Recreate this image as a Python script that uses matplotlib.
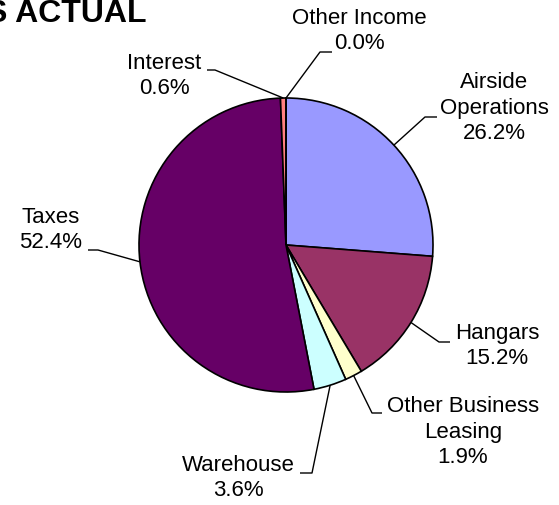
import matplotlib.pyplot as plt
import numpy as np

plt.rcParams["font.family"] = ["Liberation Sans", "DejaVu Sans"]

categories = [
    "Airside\nOperations",
    "Hangars",
    "Other Business\nLeasing",
    "Warehouse",
    "Taxes",
    "Interest",
    "Other Income",
]
shares = [26.2, 15.2, 1.9, 3.6, 52.4, 0.6, 0.0]
colors = ["#9999FF", "#993366", "#FFFFCC", "#CCFFFF", "#660066", "#FF8080", "#0066CC"]

# label placement in pixels: text centre, elbow of leader, end of leader
label_pos = [(494, 108), (497, 346), (463, 432), (238, 478), (51, 230), (164, 76), (359, 31)]
elbow_pos = [(425, 117), (439, 342), (372, 413), (312, 473), (98, 250), (215, 70), (320, 52)]
end_pos = [(437, 117), (450, 342), (382, 413), (300, 473), (88, 250), (207, 70), (332, 52)]

W, H = 559, 505
CX, CY, R = 286, 245, 147


def px(x, y):
    return (x - CX) / R, (CY - y) / R


fig = plt.figure(figsize=(W / 100, H / 100), dpi=100)
ax = fig.add_axes([0, 0, 1, 1])

wedges, _ = ax.pie(
    shares,
    colors=colors,
    startangle=90,
    counterclock=False,
    radius=1,
    normalize=True,
    wedgeprops=dict(edgecolor="black", linewidth=1.2),
)

for w, name, val, tp, ep, lp in zip(wedges, categories, shares, label_pos, elbow_pos, end_pos):
    mid = np.deg2rad((w.theta1 + w.theta2) / 2)
    start = (w.r * np.cos(mid), w.r * np.sin(mid))
    ex, ey = px(*ep)
    lx, ly = px(*lp)
    ax.plot([start[0], ex, lx], [start[1], ey, ly], color="black", lw=1.0,
            solid_capstyle="butt", zorder=3)
    tx, ty = px(*tp)
    ax.text(tx, ty, f"{name}\n{val:.1f}%", ha="center", va="center",
            fontsize=16, linespacing=1.3, color="black")

ax.text(*px(147, 22), "S ACTUAL", ha="right", va="baseline",
        fontsize=23, fontweight="bold", color="black")

ax.set_xlim(-CX / R, (W - CX) / R)
ax.set_ylim(-(H - CY) / R, CY / R)
ax.set_aspect("equal")
ax.axis("off")

fig.savefig("out.png", dpi=100, facecolor="white")
